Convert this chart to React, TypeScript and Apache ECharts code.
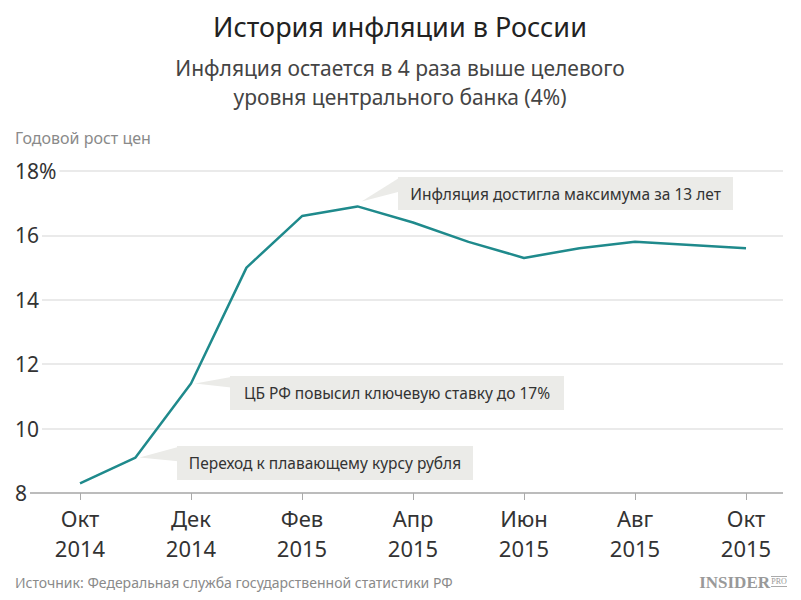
import React, { useEffect, useRef } from "react";
import * as echarts from "echarts";

const months = [
  "Окт\n2014", "Ноя\n2014", "Дек\n2014", "Янв\n2015", "Фев\n2015", "Мар\n2015", "Апр\n2015",
  "Май\n2015", "Июн\n2015", "Июл\n2015", "Авг\n2015", "Сен\n2015", "Окт\n2015",
];
const inflation = [8.3, 9.1, 11.4, 15.0, 16.6, 16.9, 16.4, 15.8, 15.3, 15.6, 15.8, 15.7, 15.6];
const yMin = 8;
const yMax = 18;
const yStep = 2;

const annotations = [
  { idx: 1, text: "Переход к плавающему курсу рубля", box: [177, 446, 296, 34] },
  { idx: 2, text: "ЦБ РФ повысил ключевую ставку до 17%", box: [230, 376, 334, 34] },
  { idx: 5, text: "Инфляция достигла максимума за 13 лет", box: [398, 177, 335, 33] },
];

const FONT = "'Noto Sans', sans-serif";

export default function App() {
  const ref = useRef<HTMLDivElement>(null);
  useEffect(() => {
    document.body.style.margin = "0";
    const chart = echarts.init(ref.current!, null, { renderer: "svg" });
    const gridTop = 171;
    const gridBottom = 107;
    chart.setOption({
      animation: false,
      backgroundColor: "#ffffff",
      textStyle: { fontFamily: FONT },
      grid: [
        { left: 15, right: 18, top: gridTop, bottom: gridBottom },
        { left: 80, right: 55, top: gridTop, bottom: gridBottom },
      ],
      xAxis: [
        { gridIndex: 0, type: "value", show: false, min: 0, max: 1 },
        {
          gridIndex: 1,
          type: "category",
          data: months,
          boundaryGap: false,
          axisLine: { show: false },
          axisTick: { show: true, interval: 1, length: 7, lineStyle: { color: "#aaaaaa", width: 1 } },
          axisLabel: {
            interval: 1,
            fontSize: 22,
            lineHeight: 30,
            color: "#333333",
            margin: 10,
            fontFamily: FONT,
          },
        },
      ],
      yAxis: [
        {
          gridIndex: 0,
          type: "value",
          min: yMin,
          max: yMax,
          interval: yStep,
          axisLine: { show: false },
          axisTick: { show: false },
          splitLine: {
            show: true,
            lineStyle: {
              color: ["#a6a6a6", "#e3e3e3", "#e3e3e3", "#e3e3e3", "#e3e3e3", "#e3e3e3"],
              width: 1.5,
            },
          },
          axisLabel: {
            inside: true,
            margin: 0,
            align: "left",
            verticalAlign: "middle",
            fontSize: 21,
            color: "#333333",
            fontFamily: FONT,
            backgroundColor: "#ffffff",
            padding: [0, 3, 0, 0],
            formatter: (v: number) => (v === yMax ? v + "%" : String(v)),
          },
        },
        { gridIndex: 1, type: "value", min: yMin, max: yMax, interval: yStep, show: false },
      ],
      series: [
        {
          type: "line",
          xAxisIndex: 1,
          yAxisIndex: 1,
          data: inflation,
          symbol: "none",
          lineStyle: { color: "#1f8a8c", width: 2.5 },
          z: 5,
        },
      ],
    });

    const graphics: any[] = [
      {
        type: "text",
        x: 400,
        y: 26,
        style: {
          text: "История инфляции в России",
          fontSize: 27,
          fontFamily: FONT,
          fill: "#222222",
          align: "center",
          verticalAlign: "middle",
        },
      },
      {
        type: "text",
        x: 400,
        y: 68,
        style: {
          text: "Инфляция остается в 4 раза выше целевого",
          fontSize: 21,
          fontFamily: FONT,
          fill: "#444444",
          align: "center",
          verticalAlign: "middle",
        },
      },
      {
        type: "text",
        x: 400,
        y: 97,
        style: {
          text: "уровня центрального банка (4%)",
          fontSize: 21,
          fontFamily: FONT,
          fill: "#444444",
          align: "center",
          verticalAlign: "middle",
        },
      },
      {
        type: "text",
        x: 15,
        y: 138,
        style: {
          text: "Годовой рост цен",
          fontSize: 16,
          fontFamily: FONT,
          fill: "#8a8a8a",
          align: "left",
          verticalAlign: "middle",
        },
      },
      {
        type: "text",
        x: 15,
        y: 582,
        style: {
          text: "Источник: Федеральная служба государственной статистики РФ",
          fontSize: 14,
          fontFamily: FONT,
          fill: "#8a8a8a",
          align: "left",
          verticalAlign: "middle",
        },
      },
      {
        type: "text",
        x: 770,
        y: 582,
        style: {
          text: "INSIDER",
          fontSize: 17,
          fontWeight: "bold",
          fontFamily: "'Liberation Serif', 'DejaVu Serif', serif",
          fill: "#999999",
          align: "right",
          verticalAlign: "middle",
        },
      },
      {
        type: "text",
        x: 779,
        y: 581,
        style: {
          text: "PRO",
          fontSize: 8,
          fontFamily: "'Liberation Serif', serif",
          fill: "#999999",
          align: "center",
          verticalAlign: "middle",
        },
      },
      { type: "line", shape: { x1: 771, y1: 576.5, x2: 787, y2: 576.5 }, style: { stroke: "#aaaaaa", lineWidth: 1 } },
      { type: "line", shape: { x1: 771, y1: 586.5, x2: 787, y2: 586.5 }, style: { stroke: "#aaaaaa", lineWidth: 1 } },
    ];

    annotations.forEach((a) => {
      const p = chart.convertToPixel({ seriesIndex: 0 }, [a.idx, inflation[a.idx]]) as number[];
      const [bx, by, bw, bh] = a.box;
      const tipX = p[0] + 4;
      const tipY = p[1] - (a.idx === 5 ? 5 : 0);
      const baseTop = by + 1;
      const baseBot = Math.min(by + bh * 0.45, tipY + 4);
      graphics.push({
        type: "polygon",
        shape: { points: [[tipX, tipY], [bx + 1, baseTop], [bx + 1, Math.max(baseBot, baseTop + 10)]] },
        style: { fill: "#ebebe8" },
        z: 10,
      });
      graphics.push({
        type: "rect",
        shape: { x: bx, y: by, width: bw, height: bh },
        style: { fill: "#ebebe8" },
        z: 10,
      });
      graphics.push({
        type: "text",
        x: bx + bw / 2,
        y: by + bh / 2,
        style: {
          text: a.text,
          fontSize: 15.5,
          fontFamily: FONT,
          fill: "#333333",
          align: "center",
          verticalAlign: "middle",
        },
        z: 11,
      });
    });

    chart.setOption({ graphic: graphics });
    return () => chart.dispose();
  }, []);
  return <div ref={ref} style={{ width: 801, height: 600 }} />;
}
